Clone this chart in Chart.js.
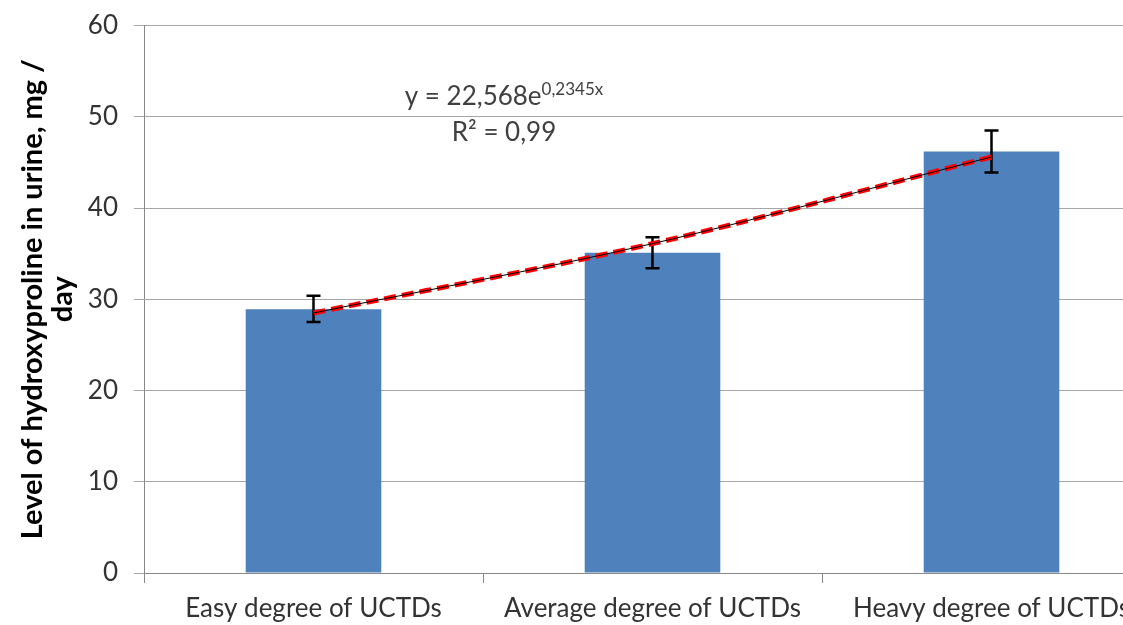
<!DOCTYPE html>
<html lang="en">
<head>
  <meta charset="UTF-8" />
  <title>Hydroxyproline level</title>
  <style>
    html, body { margin: 0; padding: 0; background: #fff; overflow: hidden; }
    canvas { display: block; margin-top: -6px; }
  </style>
</head>
<body>
  <canvas id="chart" width="1170" height="646"></canvas>

  <script src="https://cdn.jsdelivr.net/npm/chart.js"></script>
  <script>
    // values
    const categories = ['Easy degree of UCTDs', 'Average degree of UCTDs', 'Heavy degree of UCTDs'];
    const levels = [28.9, 35.1, 46.2];
    const errLow = [27.5, 33.4, 43.9];
    const errHigh = [30.4, 36.8, 48.5];
    const trend = [28.5, 36.1, 45.6];
    const yMin = 0, yMax = 60, yStep = 10;
    const eqMain = 'y = 22,568e';
    const eqSup = '0,2345x';
    const eqR2 = 'R\u00B2 = 0,99';

    const FONT = 'Lato, "Open Sans", sans-serif';
    const GRID = '#a6a6a6';

    // error bars, drawn right after the bars
    const errorBars = {
      id: 'errorBars',
      afterDatasetDraw(chart, args) {
        if (args.index !== 0) return;
        const { ctx, scales: { x, y } } = chart;
        ctx.save();
        ctx.strokeStyle = '#000';
        ctx.lineWidth = 2.5;
        errLow.forEach((lo, i) => {
          const cx = x.getPixelForValue(i);
          const yl = y.getPixelForValue(lo);
          const yh = y.getPixelForValue(errHigh[i]);
          ctx.beginPath();
          ctx.moveTo(cx, yl); ctx.lineTo(cx, yh);
          ctx.moveTo(cx - 7, yl); ctx.lineTo(cx + 7, yl);
          ctx.moveTo(cx - 7, yh); ctx.lineTo(cx + 7, yh);
          ctx.stroke();
        });
        ctx.restore();
      }
    };

    // trendline equation
    const equation = {
      id: 'equation',
      afterDraw(chart) {
        const { ctx, chartArea } = chart;
        const cx = chartArea.left + 360;
        ctx.save();
        ctx.fillStyle = '#404040';
        ctx.textBaseline = 'alphabetic';
        ctx.font = '26px ' + FONT;
        const wMain = ctx.measureText(eqMain).width;
        ctx.font = '17px ' + FONT;
        const wSup = ctx.measureText(eqSup).width;
        const x0 = cx - (wMain + wSup) / 2;
        ctx.font = '26px ' + FONT;
        ctx.textAlign = 'left';
        ctx.fillText(eqMain, x0, chartArea.top + 79);
        ctx.font = '17px ' + FONT;
        ctx.fillText(eqSup, x0 + wMain, chartArea.top + 69);
        ctx.font = '26px ' + FONT;
        ctx.textAlign = 'center';
        ctx.fillText(eqR2, cx, chartArea.top + 115);
        ctx.restore();
      }
    };

    new Chart(document.getElementById('chart'), {
      type: 'bar',
      data: {
        labels: categories,
        datasets: [
          {
            type: 'bar',
            data: levels,
            backgroundColor: '#4f81bd',
            barPercentage: 1,
            categoryPercentage: 0.4,
            order: 3
          },
          {
            type: 'line',
            data: trend,
            borderColor: '#ff0000',
            borderWidth: 5,
            borderDash: [12, 6],
            pointRadius: 0,
            cubicInterpolationMode: 'monotone',
            order: 2
          },
          {
            type: 'line',
            data: trend,
            borderColor: '#000',
            borderWidth: 1,
            pointRadius: 0,
            cubicInterpolationMode: 'monotone',
            order: 1
          }
        ]
      },
      options: {
        responsive: false,
        animation: false,
        layout: { padding: { top: 18, right: 9, left: 0, bottom: 0 } },
        plugins: {
          legend: { display: false },
          tooltip: { enabled: false }
        },
        scales: {
          x: {
            grid: { drawOnChartArea: false, tickLength: 10, color: '#888', offset: true },
            border: { color: '#888' },
            ticks: { color: '#333', font: { family: FONT, size: 26 }, padding: 10, maxRotation: 0 },
            afterFit: s => { s.height = 67; }
          },
          y: {
            min: yMin,
            max: yMax,
            ticks: { stepSize: yStep, color: '#333', font: { family: FONT, size: 26 }, padding: 16 },
            grid: { color: GRID, tickLength: 10 },
            border: { color: '#888' },
            title: {
              display: true,
              text: ['Level of hydroxyproline in urine, mg /', 'day'],
              color: '#000',
              font: { family: FONT, size: 29, weight: 'bold', lineHeight: 1.03 },
              padding: { top: 18, bottom: 0 }
            },
            afterFit: s => { s.width = 144; }
          }
        }
      },
      plugins: [errorBars, equation]
    });
  </script>
</body>
</html>
